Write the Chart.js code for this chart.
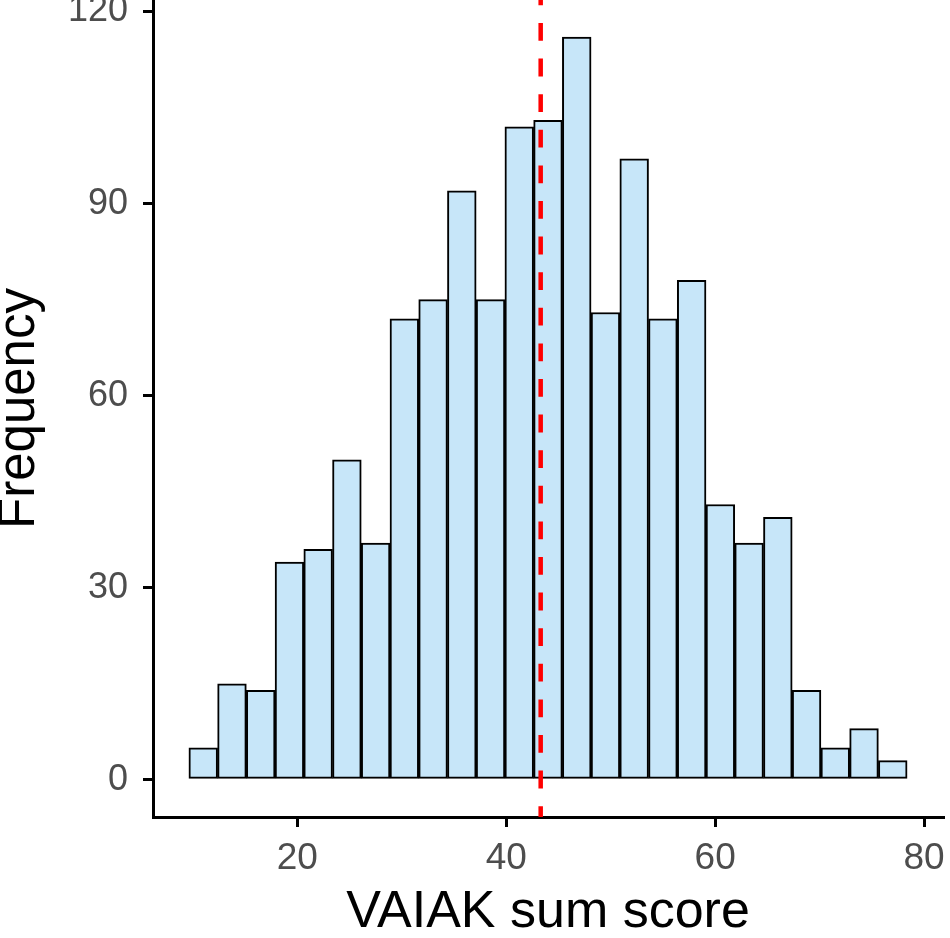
<!DOCTYPE html>
<html>
<head>
<meta charset="utf-8">
<script src="https://cdn.jsdelivr.net/npm/chart.js@4.4.0/dist/chart.umd.min.js"></script>
<style>
    html, body { margin: 0; padding: 0; background: #fff; overflow: hidden; }
</style>
</head>
<body>
<canvas id="myChart" width="950" height="938"></canvas>
<script>
// HISTOGRAM DATA (bin centres, binwidth 2.75)
const binCenters = [11, 13.75, 16.5, 19.25, 22, 24.75, 27.5, 30.25, 33, 35.75, 38.5, 41.25, 44,
    46.75, 49.5, 52.25, 55, 57.75, 60.5, 63.25, 66, 68.75, 71.5, 74.25, 77];
const frequency = [5, 15, 14, 34, 36, 50, 37, 72, 75, 92, 75, 102, 103,
    116, 73, 97, 72, 78, 43, 37, 41, 14, 5, 8, 3];
const meanScore = 43.3;

// AXES
const xTicks = [20, 40, 60, 80];
const yTicks = [0, 30, 60, 90, 120];
const xRange = [6.19, 81.81];
const yRange = [-5.8, 121.8];

Chart.defaults.font.family = "'Liberation Sans', Arial, sans-serif";

const ctx = document.getElementById('myChart').getContext('2d');
const myChart = new Chart(ctx, {
    type: 'bar',
    data: {
        datasets: [{
            type: 'line',
            data: [{ x: meanScore, y: yRange[1] }, { x: meanScore, y: yRange[0] }],
            borderColor: '#ff0000',
            borderWidth: 4.5,
            borderDash: [17.8, 17.8],
            borderDashOffset: 12.6,
            pointRadius: 0,
            fill: false,
            order: 1
        }, {
            type: 'bar',
            data: binCenters.map((c, i) => ({ x: c, y: frequency[i] })),
            backgroundColor: '#c7e6f9',
            borderColor: '#000000',
            borderWidth: 2,
            borderSkipped: false,
            barPercentage: 1,
            categoryPercentage: 1,
            order: 2
        }]
    },
    options: {
        responsive: false,
        devicePixelRatio: 1,
        animation: false,
        layout: { padding: { top: 0, right: 7, bottom: 0, left: 0 } },
        plugins: {
            legend: { display: false },
            tooltip: { enabled: false }
        },
        scales: {
            x: {
                type: 'linear',
                min: xRange[0],
                max: xRange[1],
                offset: false,
                afterBuildTicks: function (scale) {
                    scale.ticks = xTicks.map(v => ({ value: v }));
                },
                afterFit: function (scale) {
                    scale.height = 121;
                    scale.paddingLeft = 0;
                    scale.paddingRight = 0;
                },
                grid: {
                    display: true, offset: false, drawOnChartArea: false, drawTicks: true,
                    tickLength: 10, color: '#000', lineWidth: 3
                },
                border: { display: true, color: '#000', width: 3 },
                ticks: {
                    color: '#4d4d4d', font: { size: 37, lineHeight: 1 },
                    padding: 13, maxRotation: 0, autoSkip: false
                },
                title: {
                    display: true, text: 'VAIAK sum score', color: '#000',
                    font: { size: 52, lineHeight: 1 }, padding: { top: 0, bottom: -1 }
                }
            },
            y: {
                type: 'linear',
                min: yRange[0],
                max: yRange[1],
                afterBuildTicks: function (scale) {
                    scale.ticks = yTicks.map(v => ({ value: v }));
                },
                afterFit: function (scale) {
                    scale.width = 153;
                    scale.paddingTop = 0;
                    scale.paddingBottom = 0;
                },
                grid: {
                    display: true, drawOnChartArea: false, drawTicks: true,
                    tickLength: 10, color: '#000', lineWidth: 3
                },
                border: { display: true, color: '#000', width: 3 },
                ticks: {
                    color: '#4d4d4d', font: { size: 36, lineHeight: 1 },
                    padding: 15, autoSkip: false
                },
                title: {
                    display: true, text: 'Frequency', color: '#000',
                    font: { size: 51, lineHeight: 1 }, padding: { top: -6, bottom: 0 }
                }
            }
        }
    }
});
</script>
</body>
</html>
